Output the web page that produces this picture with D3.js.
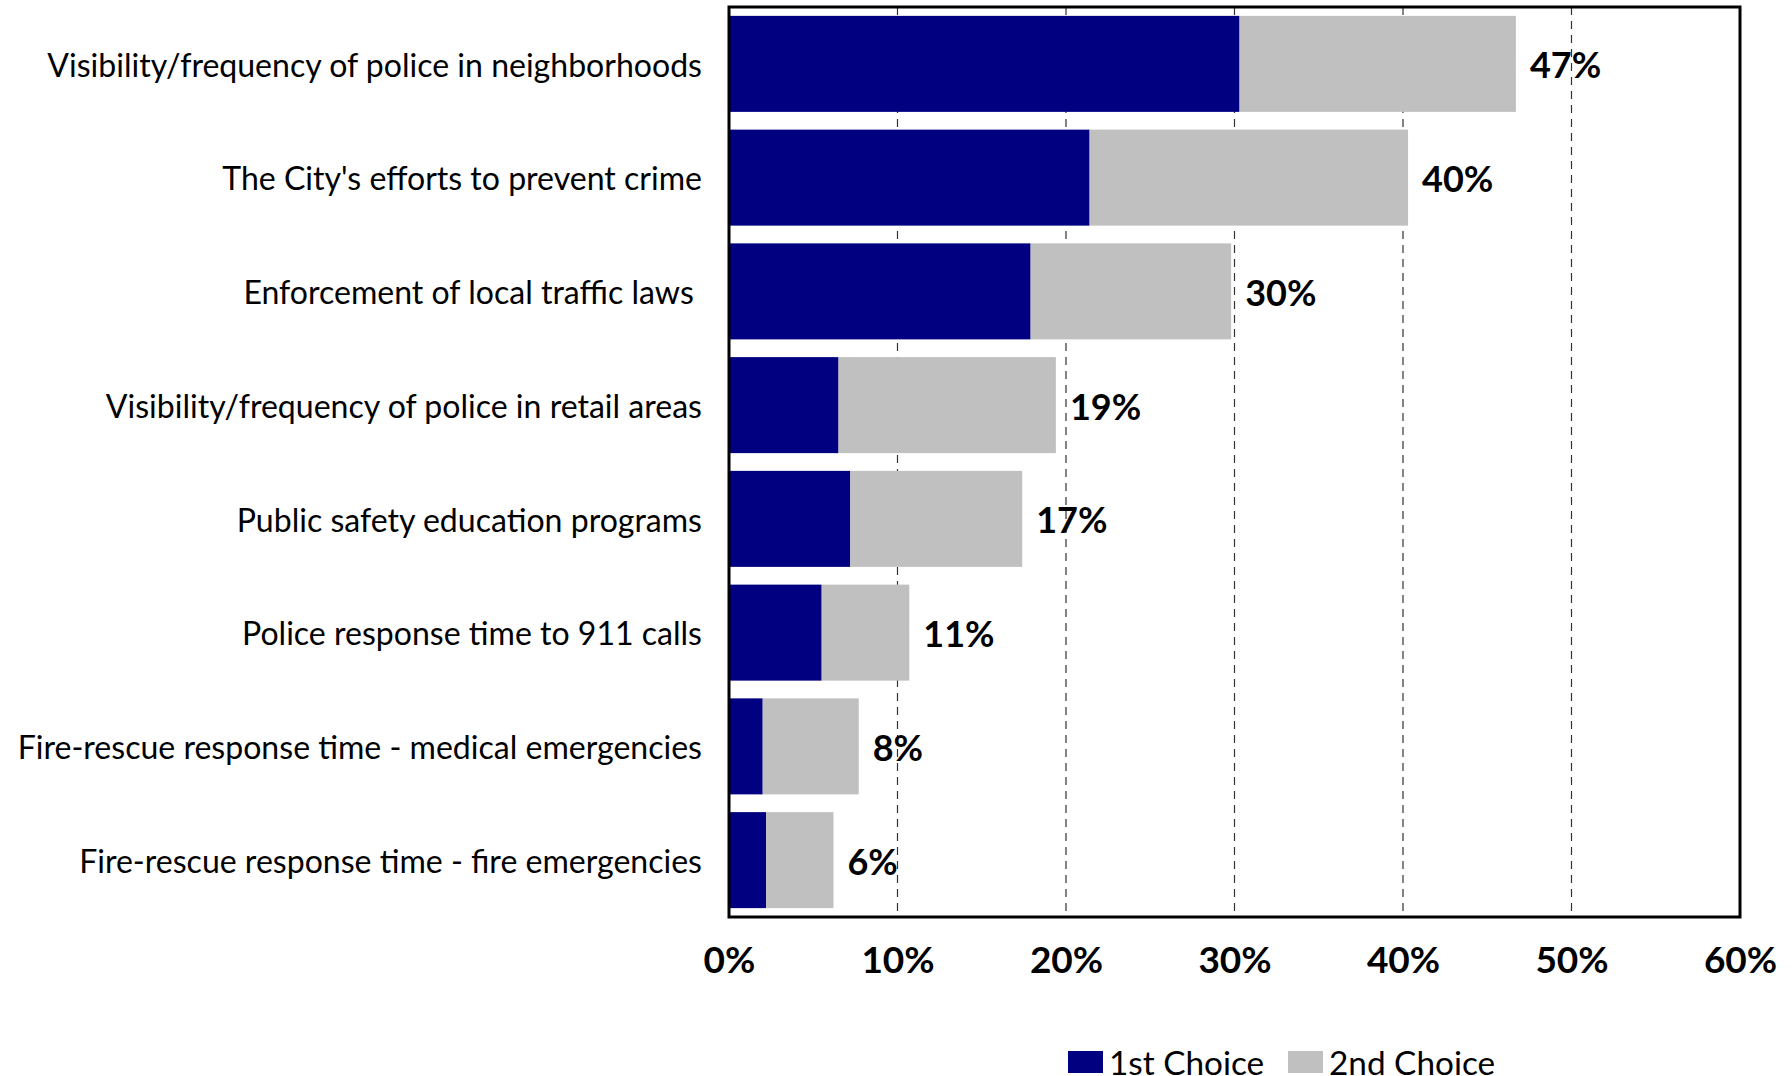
<!DOCTYPE html>
<html>
<head>
<meta charset="utf-8">
<script src="https://cdn.jsdelivr.net/npm/d3@7"></script>
<style>
  html, body { margin: 0; padding: 0; background: #fff; }
  svg { display: block; }
  text { font-family: Lato, "Open Sans", sans-serif; fill: #000; }
</style>
</head>
<body>
<svg id="chart" width="1792" height="1076"></svg>
<script>
const categories = [
  "Visibility/frequency of police in neighborhoods",
  "The City's efforts to prevent crime",
  "Enforcement of local traffic laws ",
  "Visibility/frequency of police in retail areas",
  "Public safety education programs",
  "Police response time to 911 calls",
  "Fire-rescue response time - medical emergencies",
  "Fire-rescue response time - fire emergencies"
];
const firstChoice  = [30.3, 21.4, 17.9, 6.5, 7.2, 5.5, 2.0, 2.2];
const secondChoice = [16.4, 18.9, 11.9, 12.9, 10.2, 5.2, 5.7, 4.0];
const totalLabels  = ["47%", "40%", "30%", "19%", "17%", "11%", "8%", "6%"];
const seriesNames  = ["1st Choice", "2nd Choice"];
const seriesColors = ["#000080", "#C0C0C0"];
const tickValues   = [0, 10, 20, 30, 40, 50, 60];

const FONT = "Lato, 'Open Sans', sans-serif";
const svg = d3.select("#chart");
const plot = { left: 729, right: 1740, top: 7, bottom: 917 };

const x = d3.scaleLinear().domain([0, 60]).range([plot.left, plot.right]);
const y = d3.scaleBand().domain(categories).range([plot.top, plot.bottom])
  .paddingInner(0.156).paddingOuter(0.078);

// gridlines
svg.append("g").selectAll("line").data(tickValues.filter(v => v > 0 && v < 60))
  .join("line")
  .attr("x1", d => x(d)).attr("x2", d => x(d))
  .attr("y1", plot.top).attr("y2", plot.bottom)
  .attr("stroke", "#333").attr("stroke-width", 1.2)
  .attr("stroke-dasharray", "8,6");

// stacked bars
const rows = categories.map((c, i) => ({ cat: c, a: firstChoice[i], b: secondChoice[i], label: totalLabels[i] }));
const stack = d3.stack().keys(["a", "b"])(rows);
svg.append("g").selectAll("g").data(stack).join("g")
  .attr("fill", (d, i) => seriesColors[i])
  .selectAll("rect").data(d => d).join("rect")
  .attr("x", d => x(d[0]))
  .attr("width", d => x(d[1]) - x(d[0]))
  .attr("y", d => y(d.data.cat))
  .attr("height", y.bandwidth());

// value labels
svg.append("g").selectAll("text").data(rows).join("text")
  .attr("x", d => x(d.a + d.b) + 14)
  .attr("y", d => y(d.cat) + y.bandwidth() / 2)
  .attr("dy", "0.4em")
  .attr("font-size", 36).attr("font-weight", "bold")
  .text(d => d.label);

// frame
svg.append("rect")
  .attr("x", plot.left).attr("y", plot.top)
  .attr("width", plot.right - plot.left).attr("height", plot.bottom - plot.top)
  .attr("fill", "none").attr("stroke", "#000").attr("stroke-width", 3);

// x axis tick labels
const xAxis = d3.axisBottom(x).tickValues(tickValues).tickSize(0).tickPadding(0)
  .tickFormat(d => d + "%");
const gx = svg.append("g").attr("transform", `translate(0,${plot.bottom})`).call(xAxis);
gx.select(".domain").remove();
gx.selectAll("text")
  .attr("y", 56).attr("dy", 0)
  .attr("font-size", 37).attr("font-weight", "bold")
  .attr("font-family", FONT)
  .attr("fill", "#000");

// y axis category labels
const yAxis = d3.axisLeft(y).tickSize(0).tickPadding(0);
const gy = svg.append("g").attr("transform", `translate(${plot.left - 27},0)`).call(yAxis);
gy.select(".domain").remove();
const catText = gy.selectAll("text")
  .attr("font-size", 30)
  .attr("font-family", FONT)
  .attr("fill", "#000")
  .attr("dy", "0.4em")
  .style("white-space", "pre");
// fit font size so the longest label spans the same width as in the reference
const w0 = catText.nodes()[0].getComputedTextLength();
const catSize = 30 * 655 / w0;
catText.attr("font-size", catSize);

// legend
const legendX = [1068, 1288];
const lg = svg.append("g");
seriesNames.forEach((name, i) => {
  lg.append("rect").attr("x", legendX[i]).attr("y", 1051)
    .attr("width", 35).attr("height", 22).attr("fill", seriesColors[i]);
  const t = lg.append("text").attr("x", legendX[i] + 41).attr("y", 1075)
    .attr("font-size", catSize * 1.04).text(name);
});
</script>
</body>
</html>
